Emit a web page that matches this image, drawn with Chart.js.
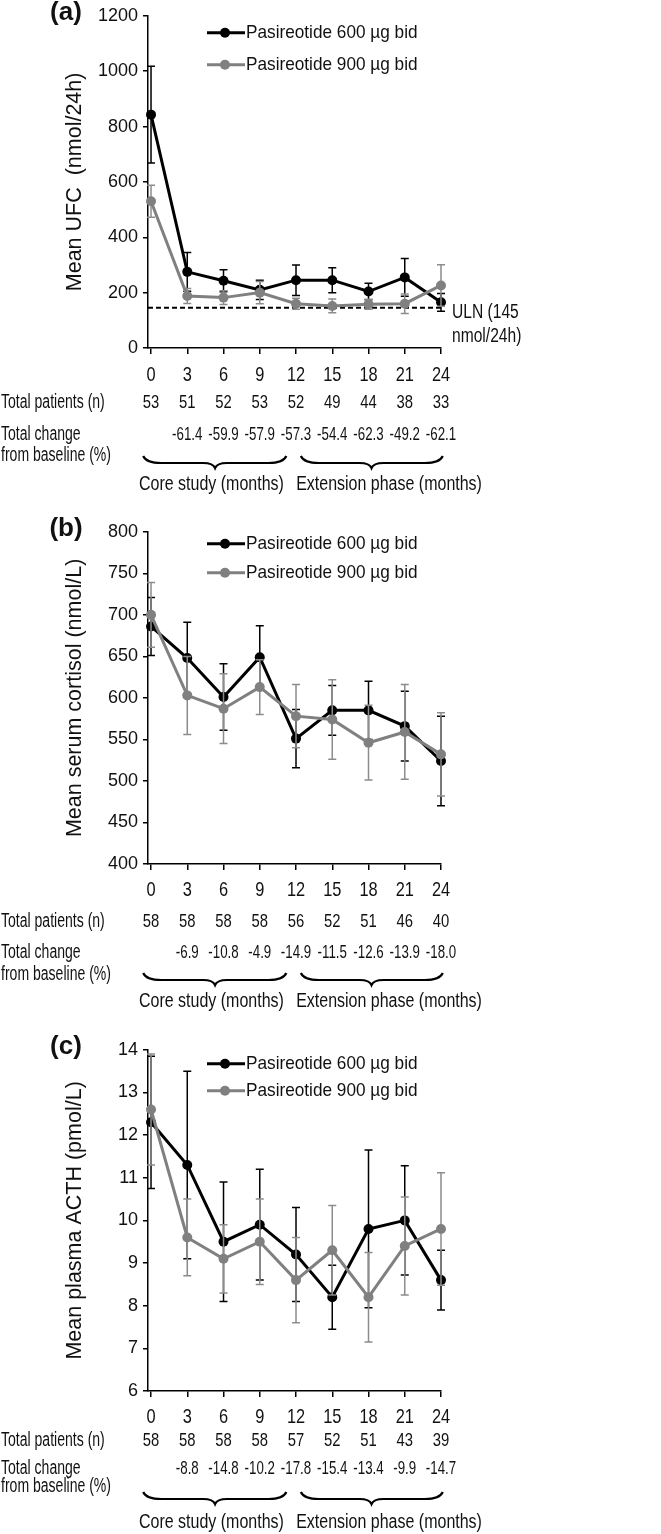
<!DOCTYPE html>
<html>
<head>
<meta charset="utf-8">
<script src="https://cdn.jsdelivr.net/npm/chart.js@4.4.1/dist/chart.umd.min.js"></script>
<style>
  body { margin: 0; background: #fff; }
  #fig { position: relative; width: 661px; height: 1534px; background: #fff; }
  #fig canvas { position: absolute; left: 0; }
</style>
</head>
<body>
<div id="fig">
  <canvas id="chartA" width="661" height="516" style="top:0px"></canvas>
  <canvas id="chartB" width="661" height="518" style="top:516px"></canvas>
  <canvas id="chartC" width="661" height="500" style="top:1034px"></canvas>
</div>
<script>
// Données
const months = [0, 3, 6, 9, 12, 15, 18, 21, 24];
const seriesNames = ['Pasireotide 600 µg bid', 'Pasireotide 900 µg bid'];

// (a) UFC
const ufc600 = [843, 275, 243, 210, 245, 245, 204, 255, 165];
const ufc600Err = [175, 70, 40, 35, 55, 45, 30, 68, 32];
const ufc900 = [530, 188, 182, 200, 160, 152, 158, 160, 226];
const ufc900Err = [58, 27, 25, 40, 20, 25, 18, 35, 75];
const ufcN = [53, 51, 52, 53, 52, 49, 44, 38, 33];
const ufcChange = [null, -61.4, -59.9, -57.9, -57.3, -54.4, -62.3, -49.2, -62.1];
const ufcAxis = [0, 1200, 200];
const ufcUln = 145;

// (b) cortisol
const cort600 = [686, 648, 601, 649, 551, 585, 585, 566, 524];
const cort600Err = [35, 43, 40, 38, 35, 30, 35, 42, 54];
const cort900 = [700, 603, 587, 613, 578, 574, 546, 559, 532];
const cort900Err = [39, 47, 42, 33, 38, 48, 45, 57, 50];
const cortN = [58, 58, 58, 58, 56, 52, 51, 46, 40];
const cortChange = [null, -6.9, -10.8, -4.9, -14.9, -11.5, -12.6, -13.9, -18.0];
const cortAxis = [400, 800, 50];

// (c) ACTH
const acth600 = [12.3, 11.3, 9.5, 9.9, 9.2, 8.2, 9.8, 10.0, 8.6];
const acth600Err = [1.55, 2.2, 1.4, 1.3, 1.1, 0.75, 1.85, 1.28, 0.7];
const acth900 = [12.6, 9.6, 9.1, 9.5, 8.6, 9.3, 8.2, 9.4, 9.8];
const acth900Err = [1.3, 0.9, 0.8, 1.0, 1.0, 1.05, 1.05, 1.15, 1.32];
const acthN = [58, 58, 58, 58, 57, 52, 51, 43, 39];
const acthChange = [null, -8.8, -14.8, -10.2, -17.8, -15.4, -13.4, -9.9, -14.7];
const acthAxis = [6, 14, 1];

const phaseNames = ['Core study (months)', 'Extension phase (months)'];

const FONT = '"Liberation Sans", Arial, Helvetica, sans-serif';
const BLACK = '#000000';
const GREY = '#808080';

// texte avec compression horizontale (police étroite de la figure)
function txt(ctx, s, x, y, size, sx, align, bold) {
    ctx.save();
    ctx.font = (bold ? 'bold ' : '') + size + 'px ' + FONT;
    ctx.fillStyle = '#111';
    ctx.textAlign = align || 'center';
    ctx.textBaseline = 'middle';
    ctx.translate(x, y);
    ctx.scale(sx, 1);
    ctx.fillText(s, 0, 0);
    ctx.restore();
}

function brace(ctx, x1, x2, xm, y) {
    ctx.beginPath();
    ctx.moveTo(x1, y);
    ctx.quadraticCurveTo(x1 + 3, y + 7, x1 + 18, y + 7);
    ctx.lineTo(xm - 12, y + 7);
    ctx.quadraticCurveTo(xm - 2, y + 7, xm, y + 12);
    ctx.quadraticCurveTo(xm + 2, y + 7, xm + 12, y + 7);
    ctx.lineTo(x2 - 18, y + 7);
    ctx.quadraticCurveTo(x2 - 3, y + 7, x2, y);
    ctx.stroke();
}

function makePanel(id, p) {
    const L = p.layout;
    const canvas = document.getElementById(id);
    const H = canvas.height;

    const errBars = {
        id: 'errBars',
        beforeDatasetDraw(chart, args) {
            const ds = chart.data.datasets[args.index];
            const xs = chart.scales.x, ys = chart.scales.y;
            const ctx = chart.ctx;
            ctx.save();
            ctx.strokeStyle = ds.errColor;
            ctx.lineWidth = ds.errWidth;
            ds.data.forEach((pt, i) => {
                const x = xs.getPixelForValue(pt.x);
                const yTop = ys.getPixelForValue(pt.y + ds.err[i]);
                const yBot = ys.getPixelForValue(pt.y - ds.err[i]);
                ctx.beginPath();
                ctx.moveTo(x, yTop); ctx.lineTo(x, yBot);
                ctx.moveTo(x - 4, yTop); ctx.lineTo(x + 4, yTop);
                ctx.moveTo(x - 4, yBot); ctx.lineTo(x + 4, yBot);
                ctx.stroke();
            });
            ctx.restore();
        }
    };

    const deco = {
        id: 'deco',
        beforeDatasetsDraw(chart) {
            if (p.uln == null) return;
            const ctx = chart.ctx;
            const y = chart.scales.y.getPixelForValue(p.uln);
            ctx.save();
            ctx.strokeStyle = '#000';
            ctx.lineWidth = 2;
            ctx.setLineDash([5, 3]);
            ctx.beginPath();
            ctx.moveTo(chart.chartArea.left, y);
            ctx.lineTo(chart.chartArea.right + 2, y);
            ctx.stroke();
            ctx.restore();
        },
        afterDraw(chart) {
            const ctx = chart.ctx;
            const xs = chart.scales.x;
            const area = chart.chartArea;
            const b = area.bottom;

            // lettre du panneau et titre de l'axe
            txt(ctx, p.tag, 66, area.top - 3, 26, 1, 'center', true);
            ctx.save();
            ctx.translate(75, (area.top + area.bottom) / 2);
            ctx.rotate(-Math.PI / 2);
            txt(ctx, p.yTitle, 0, 0, 21.5, 1, 'center');
            ctx.restore();

            // étiquettes de l'axe x
            months.forEach(m => txt(ctx, String(m), xs.getPixelForValue(m), b + L.xl, 21, 0.78));

            // tableau sous le graphique
            txt(ctx, 'Total patients (n)', 1, b + L.n, 19.5, 0.72, 'left');
            txt(ctx, 'Total change', 1, b + L.ch, 19.5, 0.72, 'left');
            txt(ctx, 'from baseline (%)', 1, b + L.base, 19.5, 0.72, 'left');
            p.n.forEach((v, i) => txt(ctx, String(v), xs.getPixelForValue(months[i]), b + L.n, 19, 0.78));
            p.change.forEach((v, i) => {
                if (v == null) return;
                txt(ctx, v.toFixed(1), xs.getPixelForValue(months[i]), b + L.ch, 19, 0.7);
            });

            // accolades
            ctx.save();
            ctx.strokeStyle = '#000';
            ctx.lineWidth = 2.2;
            brace(ctx, xs.getPixelForValue(-0.65), xs.getPixelForValue(11.2), xs.getPixelForValue(5.3), b + L.brace);
            brace(ctx, xs.getPixelForValue(12.4), xs.getPixelForValue(24.15), xs.getPixelForValue(18.25), b + L.brace);
            ctx.restore();
            txt(ctx, phaseNames[0], xs.getPixelForValue(5.0), b + L.phase, 19.5, 0.82);
            txt(ctx, phaseNames[1], xs.getPixelForValue(19.7), b + L.phase, 19.5, 0.82);

            // légende
            chart.data.datasets.slice().sort((a, c) => c.order - a.order).forEach((ds, k) => {
                const y = area.top + L.legend[k];
                ctx.save();
                ctx.strokeStyle = ds.borderColor;
                ctx.fillStyle = ds.borderColor;
                ctx.lineWidth = 3;
                ctx.beginPath();
                ctx.moveTo(207, y); ctx.lineTo(245, y);
                ctx.stroke();
                ctx.beginPath();
                ctx.arc(225, y, 5, 0, Math.PI * 2);
                ctx.fill();
                ctx.restore();
                txt(ctx, ds.label, 246, y, 18.5, 0.93, 'left');
            });

            // ULN
            if (p.uln != null) {
                const y = chart.scales.y.getPixelForValue(p.uln);
                txt(ctx, 'ULN (145', 452, y + 5, 19.5, 0.8, 'left');
                txt(ctx, 'nmol/24h)', 452, y + 29, 19.5, 0.8, 'left');
            }
        }
    };

    const mkSet = (label, vals, err, color, errColor, order) => ({
        label: label,
        data: months.map((m, i) => ({ x: m, y: vals[i] })),
        err: err,
        errColor: errColor,
        errWidth: 1.5,
        borderColor: color,
        backgroundColor: color,
        borderWidth: 3,
        pointRadius: 5,
        pointBorderWidth: 0,
        pointBackgroundColor: color,
        tension: 0,
        clip: false,
        order: order
    });

    return new Chart(canvas, {
        type: 'line',
        data: {
            datasets: [
                mkSet(seriesNames[0], p.s600, p.e600, BLACK, BLACK, 2),
                mkSet(seriesNames[1], p.s900, p.e900, GREY, '#8c8c8c', 1)
            ]
        },
        options: {
            responsive: false,
            animation: false,
            devicePixelRatio: 1,
            layout: {
                padding: { left: 0, right: 661 - 441, top: L.top, bottom: H - L.bottom - 6 }
            },
            plugins: { legend: { display: false }, tooltip: { enabled: false } },
            scales: {
                x: {
                    type: 'linear',
                    min: -0.25,
                    max: 24,
                    afterBuildTicks: s => { s.ticks = months.map(v => ({ value: v })); },
                    afterFit: s => { s.height = 6; },
                    ticks: { display: false },
                    grid: { drawOnChartArea: false, color: '#000', tickLength: 6, lineWidth: 1.5 },
                    border: { color: '#000', width: 1.5 }
                },
                y: {
                    min: p.axis[0],
                    max: p.axis[1],
                    afterFit: s => { s.width = 148; },
                    ticks: {
                        stepSize: p.axis[2],
                        color: '#111',
                        padding: 5,
                        font: { family: FONT, size: 18 },
                        callback: v => String(v)
                    },
                    grid: { drawOnChartArea: false, color: '#000', tickLength: 5, lineWidth: 1.5 },
                    border: { color: '#000', width: 1.5 }
                }
            }
        },
        plugins: [errBars, deco]
    });
}

makePanel('chartA', {
    tag: '(a)', yTitle: 'Mean UFC  (nmol/24h)',
    s600: ufc600, e600: ufc600Err, s900: ufc900, e900: ufc900Err,
    n: ufcN, change: ufcChange, axis: ufcAxis, uln: ufcUln,
    layout: { top: 12, bottom: 348, xl: 27, n: 55, ch: 87, base: 108, brace: 108, phase: 137, legend: [17, 49] }
});

makePanel('chartB', {
    tag: '(b)', yTitle: 'Mean serum cortisol (nmol/L)',
    s600: cort600, e600: cort600Err, s900: cort900, e900: cort900Err,
    n: cortN, change: cortChange, axis: cortAxis, uln: null,
    layout: { top: 12, bottom: 348, xl: 26, n: 58, ch: 89, base: 111, brace: 109, phase: 138, legend: [12, 41] }
});

makePanel('chartC', {
    tag: '(c)', yTitle: 'Mean plasma ACTH (pmol/L)',
    s600: acth600, e600: acth600Err, s900: acth900, e900: acth900Err,
    n: acthN, change: acthChange, axis: acthAxis, uln: null,
    layout: { top: 12, bottom: 357, xl: 26, n: 50, ch: 78, base: 96, brace: 101, phase: 132, legend: [14, 41] }
});
</script>
</body>
</html>
